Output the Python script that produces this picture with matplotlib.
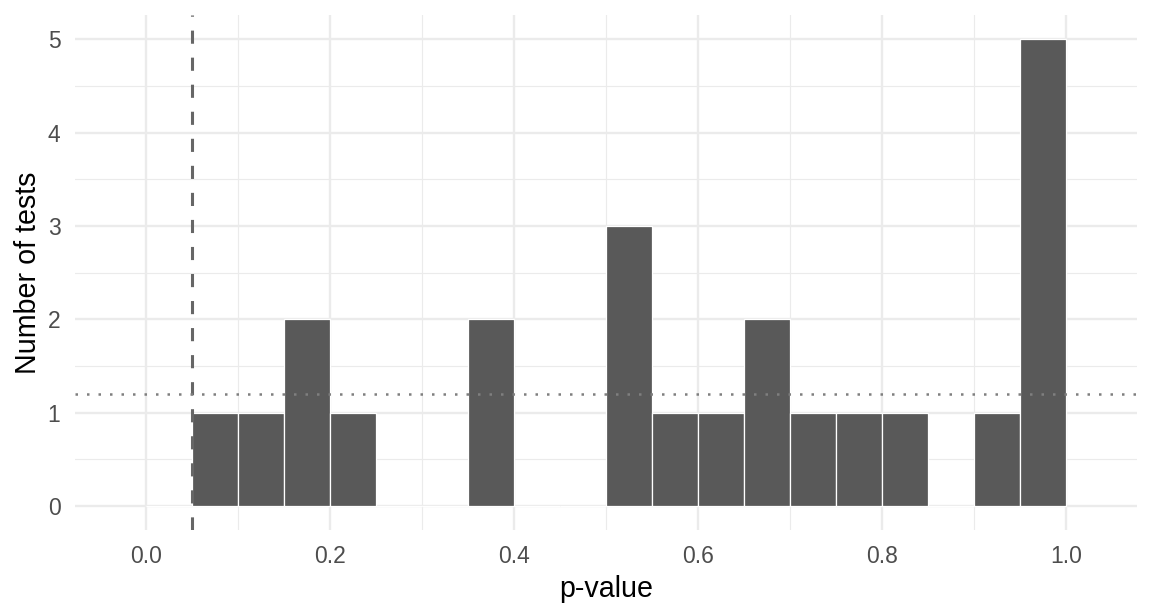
import matplotlib
matplotlib.use("Agg")
import matplotlib.pyplot as plt
import numpy as np

# Data
bin_edges = [round(0.05 * i, 2) for i in range(21)]
counts = [0, 1, 1, 2, 1, 0, 0, 2, 0, 0, 3, 1, 1, 2, 1, 1, 1, 0, 1, 5]
threshold = 0.05
expected = 1.2
x_ticks = [0.0, 0.2, 0.4, 0.6, 0.8, 1.0]
x_ticklabels = ["0.0", "0.2", "0.4", "0.6", "0.8", "1.0"]
y_ticks = [0, 1, 2, 3, 4, 5]

plt.rcParams['font.family'] = ['Liberation Sans', 'DejaVu Sans']

fig = plt.figure(figsize=(11.52, 6.14), dpi=100)
ax = fig.add_axes([75/1152, 84/614, (1137-75)/1152, (530-15)/614])

ax.set_xlim(-0.0775, 1.0775)
ax.set_ylim(-0.257, 5.26)

# grid
grid_c = "#EBEBEB"
for v in x_ticks:
    ax.axvline(v, color=grid_c, lw=1.7, zorder=0)
for v in np.arange(0.1, 1.0, 0.2):
    ax.axvline(v, color=grid_c, lw=0.85, zorder=0)
for v in y_ticks:
    ax.axhline(v, color=grid_c, lw=1.7, zorder=0)
for v in np.arange(0.5, 5.0, 1.0):
    ax.axhline(v, color=grid_c, lw=0.85, zorder=0)

lefts = bin_edges[:-1]
ax.bar(lefts, counts, width=0.05, align='edge', color="#595959",
       edgecolor="white", linewidth=0.9, zorder=2)

ax.axvline(threshold, color="#666666", lw=2.2, dashes=(4.3, 4.55), zorder=3)
ax.axhline(expected, color="#7F7F7F", lw=1.8, dashes=(1.0, 3.6), zorder=3)

for s in ax.spines.values():
    s.set_visible(False)

ax.set_xticks(x_ticks)
ax.set_xticklabels(x_ticklabels)
ax.set_yticks(y_ticks)
ax.tick_params(axis='both', length=0, pad=10.5, labelsize=16.5, labelcolor="#4D4D4D")

ax.set_xlabel("p-value", fontsize=20.6, color="black", labelpad=5)
ax.set_ylabel("Number of tests", fontsize=20.6, color="black", labelpad=4)

fig.savefig("out.png", dpi=100)
